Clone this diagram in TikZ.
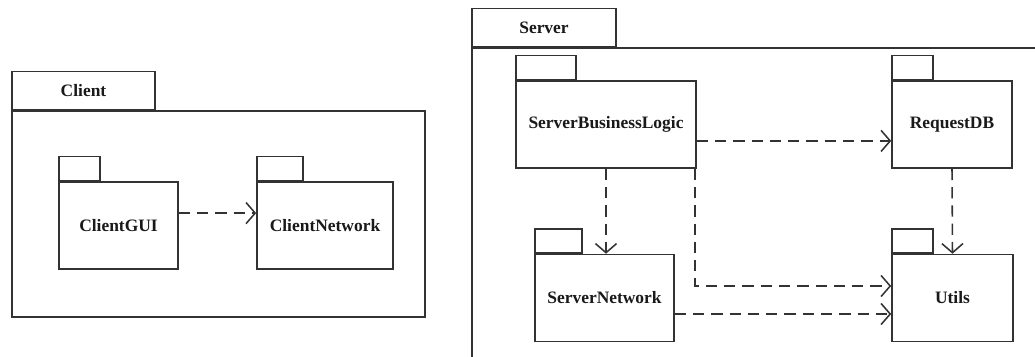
\documentclass[tikz,border=0pt]{standalone}
\usepackage{fontspec}
\setmainfont{Liberation Serif}
\usetikzlibrary{arrows.meta}

\begin{document}
\begin{tikzpicture}[x=0.025cm, y=-0.025cm,
    pkg/.style={draw=black!80, line width=1.1pt, inner sep=0pt,
      minimum height=87*0.025cm, text=black!90,
      font=\bfseries\fontsize{12.4}{14}\selectfont},
    tab/.style={pkg, minimum height=24*0.025cm, anchor=south west},
    dep/.style={draw=black!80, line width=1.1pt, dash pattern=on 8pt off 5pt,
      -{Straight Barb[length=6.5pt,width=15pt]}}]
  \useasboundingbox (0,0) rectangle (1035,356);
  \clip (0,0) rectangle (1035,356);
  % the two outer packages:
  \node [pkg, minimum width=413*0.025cm, minimum height=206*0.025cm] (client) at (218.5,214) {};
  \node [tab, minimum width=143*0.025cm, minimum height=38*0.025cm] (clienttab) at (client.north west) {Client};
  \node [pkg, minimum width=588*0.025cm, minimum height=322*0.025cm] (server) at (766,209) {};
  \node [tab, minimum width=144*0.025cm, minimum height=38*0.025cm] (servertab) at (server.north west) {Server};
  % inner packages, each with its small tab:
  \foreach \name/\x/\y/\w/\tw/\txt in {cgui/118.5/225.5/119/41/ClientGUI,
      cnet/325/225.5/136/46/ClientNetwork, sbl/606/124.5/180/60/ServerBusinessLogic,
      rdb/952/124.5/120/41/RequestDB, sn/604.5/298/139/47/ServerNetwork,
      utils/952.5/298/121/41/Utils} {
    \node [pkg, minimum width=\w*0.025cm] (\name) at (\x,\y) {\txt};
    \node [tab, minimum width=\tw*0.025cm] (\name tab) at (\name.north west) {};
  }
  % dependencies:
  \draw [dep] ([yshift=0.31cm]cgui.east) -- ([yshift=0.31cm]cnet.west);
  \draw [dep] ([yshift=-0.41cm]sbl.east) -- ([yshift=-0.41cm]rdb.west);
  \draw [dep] (sbl.south) -- (sbl.south |- sn.north);
  \draw [dep] (rdb.south) -- (utils.north);
  \draw [dep] ([xshift=-0.04cm]sbl.south east) |- ([yshift=0.3cm]utils.west);
  \draw [dep] ([yshift=-0.4cm]sn.east) -- ([yshift=-0.4cm]utils.west);
\end{tikzpicture}
\end{document}
